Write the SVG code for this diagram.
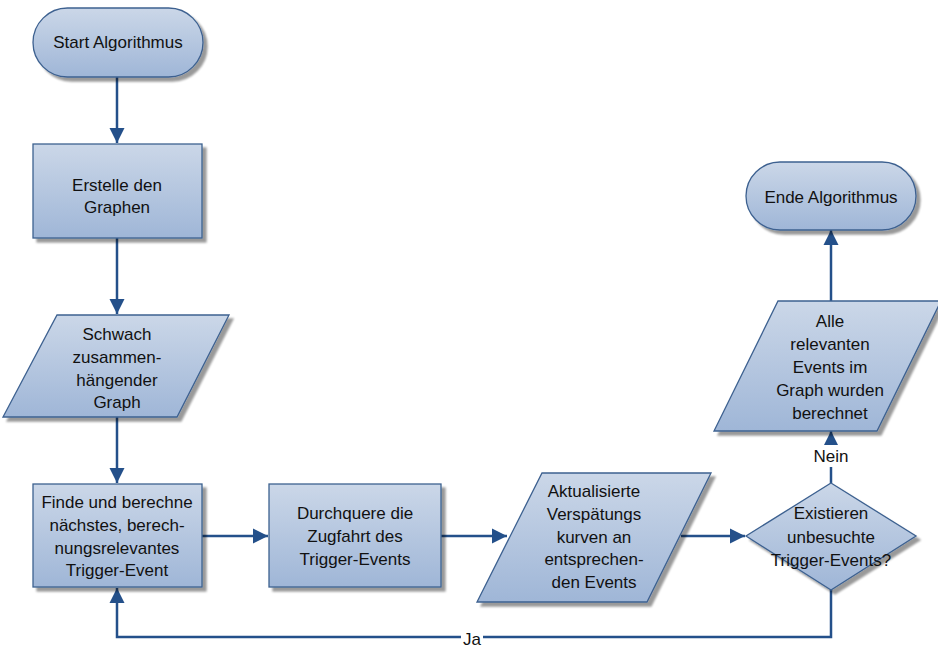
<svg xmlns="http://www.w3.org/2000/svg" width="938" height="648" viewBox="0 0 938 648">
<defs>
<linearGradient id="g" x1="0" y1="0" x2="0" y2="1">
<stop offset="0" stop-color="#cbd7e8"/>
<stop offset="1" stop-color="#9fb6d7"/>
</linearGradient>
<marker id="arr" markerUnits="userSpaceOnUse" markerWidth="16" markerHeight="16" viewBox="0 0 16 16" refX="15" refY="8" orient="auto">
<path d="M0,0.5 L15,8 L0,15.5 Z" fill="#24508a"/>
</marker>
<filter id="sh" x="-10%" y="-10%" width="130%" height="130%">
<feGaussianBlur in="SourceAlpha" stdDeviation="1"/>
<feOffset dx="4" dy="4" result="o"/>
<feComponentTransfer in="o" result="s"><feFuncA type="linear" slope="0.4"/></feComponentTransfer>
<feMerge><feMergeNode in="s"/><feMergeNode in="SourceGraphic"/></feMerge>
</filter>
</defs>
<style>
.shape{fill:url(#g);stroke:#3d6190;stroke-width:1.3;filter:url(#sh)}
.t{font-family:"Liberation Sans",Arial,sans-serif;font-size:17px;fill:#111;text-anchor:middle;dominant-baseline:central}
.c{fill:none;stroke:#24508a;stroke-width:2.5}
.lbl{font-family:"Liberation Sans",Arial,sans-serif;font-size:17px;fill:#111;text-anchor:middle;dominant-baseline:central}
</style>
<rect width="938" height="648" fill="#fff"/>
<g id="connectors">
<path class="c" d="M117,77 V143" marker-end="url(#arr)"/>
<path class="c" d="M117,238 V314" marker-end="url(#arr)"/>
<path class="c" d="M117,417 V483" marker-end="url(#arr)"/>
<path class="c" d="M202,536 H268" marker-end="url(#arr)"/>
<path class="c" d="M441,536 H507" marker-end="url(#arr)"/>
<path class="c" d="M681,536 H745" marker-end="url(#arr)"/>
<path class="c" d="M831,483 V431" marker-end="url(#arr)"/>
<path class="c" d="M831,301 V230" marker-end="url(#arr)"/>
<path class="c" d="M831,590 V637 H117 V588" marker-end="url(#arr)"/>
<rect x="812" y="445" width="38" height="22" fill="#fff"/>
<text class="lbl" x="831" y="456">Nein</text>
<rect x="461" y="628" width="22" height="20" fill="#fff"/>
<text class="lbl" x="472" y="639">Ja</text>
</g>
<g id="start">
<rect class="shape" x="33" y="8" width="170" height="69" rx="34.5"/>
<text class="t" x="118" y="42">Start Algorithmus</text>
</g>
<g id="erstelle">
<rect class="shape" x="33" y="144" width="169" height="94"/>
<text class="t" x="117" y="185">Erstelle den</text>
<text class="t" x="117" y="207">Graphen</text>
</g>
<g id="schwach">
<polygon class="shape" points="57,315 229,315 177,417 3,417"/>
<text class="t" x="117" y="334">Schwach</text>
<text class="t" x="117" y="357">zusammen-</text>
<text class="t" x="117" y="380">hängender</text>
<text class="t" x="117" y="402">Graph</text>
</g>
<g id="finde">
<rect class="shape" x="33" y="484" width="169" height="103"/>
<text class="t" x="117" y="502">Finde und berechne</text>
<text class="t" x="117" y="525">nächstes, berech-</text>
<text class="t" x="117" y="548">nungsrelevantes</text>
<text class="t" x="117" y="570">Trigger-Event</text>
</g>
<g id="durchquere">
<rect class="shape" x="269" y="484" width="172" height="103"/>
<text class="t" x="355" y="513">Durchquere die</text>
<text class="t" x="355" y="536">Zugfahrt des</text>
<text class="t" x="355" y="559">Trigger-Events</text>
</g>
<g id="aktualisierte">
<polygon class="shape" points="542,473 711,473 647,602 477,602"/>
<text class="t" x="594" y="491">Aktualisierte</text>
<text class="t" x="594" y="514">Verspätungs</text>
<text class="t" x="594" y="537">kurven an</text>
<text class="t" x="594" y="559">entsprechen-</text>
<text class="t" x="594" y="582">den Events</text>
</g>
<g id="existieren">
<polygon class="shape" points="831,483 916,536 831,590 746,536"/>
<text class="t" x="831" y="513">Existieren</text>
<text class="t" x="831" y="537">unbesuchte</text>
<text class="t" x="831" y="560">Trigger-Events?</text>
</g>
<g id="alle">
<polygon class="shape" points="778,301 941,301 877,431 714,431"/>
<text class="t" x="830" y="321">Alle</text>
<text class="t" x="830" y="344">relevanten</text>
<text class="t" x="830" y="367">Events im</text>
<text class="t" x="830" y="390">Graph wurden</text>
<text class="t" x="830" y="413">berechnet</text>
</g>
<g id="ende">
<rect class="shape" x="746" y="162" width="170" height="68" rx="34"/>
<text class="t" x="831" y="197">Ende Algorithmus</text>
</g>
</svg>
